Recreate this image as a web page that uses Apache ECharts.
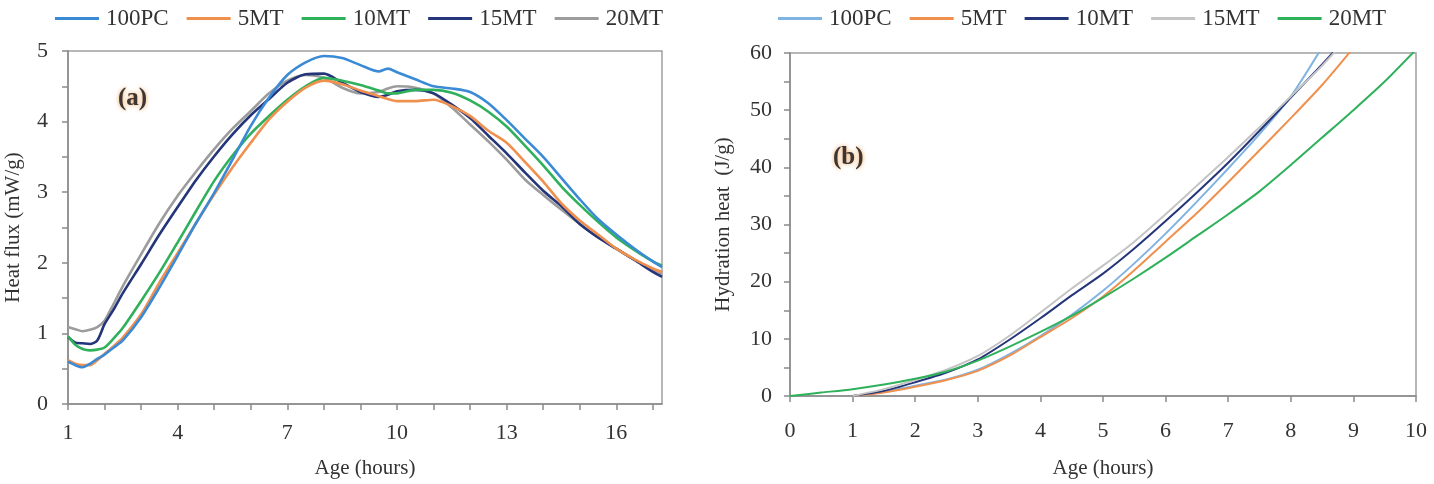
<!DOCTYPE html>
<html>
<head>
<meta charset="utf-8">
<script src="https://cdn.jsdelivr.net/npm/echarts@6/dist/echarts.min.js"></script>
<style>html,body{margin:0;padding:0;background:#fff}#c{width:1434px;height:484px}</style>
</head>
<body>
<div id="c"></div>
<script>
// ---------- Panel (a): heat flux ----------
const namesA = ['100PC', '5MT', '10MT', '15MT', '20MT'];
const timeA = [1,1.2,1.4,1.6,1.8,2,2.25,2.5,3,3.5,4,4.5,5,5.5,6,6.5,7,7.5,8,8.5,9,9.5,9.75,10,10.5,11,11.5,12,12.5,13,13.5,14,14.5,15,15.5,16,16.5,17,17.25];
const fluxPC   = [0.60,0.55,0.52,0.57,0.64,0.70,0.80,0.90,1.23,1.65,2.10,2.56,2.99,3.46,3.94,4.34,4.66,4.84,4.93,4.90,4.80,4.71,4.75,4.70,4.60,4.50,4.47,4.42,4.26,4.02,3.76,3.50,3.20,2.90,2.62,2.40,2.20,2.02,1.94];
const flux5MT  = [0.62,0.57,0.55,0.55,0.62,0.71,0.82,0.94,1.27,1.72,2.14,2.56,2.97,3.35,3.70,4.03,4.28,4.48,4.58,4.53,4.44,4.36,4.32,4.29,4.29,4.31,4.22,4.08,3.87,3.70,3.43,3.15,2.84,2.60,2.40,2.20,2.05,1.92,1.87];
const flux10MT = [0.96,0.84,0.78,0.76,0.77,0.80,0.93,1.08,1.46,1.86,2.29,2.73,3.16,3.52,3.83,4.08,4.31,4.50,4.62,4.58,4.52,4.44,4.40,4.40,4.45,4.45,4.41,4.30,4.14,3.93,3.66,3.38,3.08,2.82,2.58,2.36,2.18,2.02,1.96];
const flux15MT = [0.95,0.87,0.86,0.85,0.90,1.13,1.34,1.57,1.98,2.40,2.79,3.17,3.51,3.82,4.09,4.32,4.55,4.67,4.68,4.55,4.42,4.35,4.38,4.43,4.45,4.40,4.24,4.05,3.80,3.55,3.28,3.02,2.80,2.55,2.36,2.20,2.04,1.87,1.80];
const flux20MT = [1.09,1.06,1.03,1.05,1.09,1.18,1.42,1.67,2.12,2.56,2.95,3.29,3.61,3.90,4.15,4.40,4.58,4.66,4.62,4.48,4.40,4.42,4.47,4.50,4.48,4.40,4.20,3.96,3.72,3.46,3.18,2.96,2.75,2.55,2.36,2.20,2.04,1.90,1.84];
const colorsA = ['#3a8ad6', '#f0904e', '#2fb15b', '#24357a', '#9c9c9c'];

// ---------- Panel (b): hydration heat ----------
const namesB = ['100PC', '5MT', '10MT', '15MT', '20MT'];
const timeB = [0,0.5,1,1.5,2,2.5,3,3.5,4,4.5,5,5.5,6,6.5,7,7.5,8,8.5,9,9.5,10];
const heatPC   = [null,null,0,0.7,1.8,2.9,4.6,7.3,10.5,14.2,18.4,23.2,28.4,34.0,39.8,45.8,52.4,61.0,null,null,null];
const heat5MT  = [null,null,0,0.6,1.6,2.8,4.4,7.0,10.3,13.6,17.4,22.0,27.0,32.0,37.4,43.0,48.6,54.4,60.9,null,null];
const heat10MT = [null,null,0,0.9,2.4,4.1,6.4,9.8,13.6,17.6,21.4,25.8,30.6,35.6,40.8,46.4,52.2,58.0,64.0,null,null];
const heat15MT = [null,null,0,1.2,2.8,4.6,7.0,10.5,14.6,18.8,22.8,27.0,31.8,36.8,41.8,47.0,52.4,57.8,63.8,null,null];
const heat20MT = [0,0.6,1.2,2.0,3.0,4.3,6.2,8.6,11.2,14.0,17.2,20.6,24.2,28.0,31.8,35.8,40.4,45.2,50.0,55.0,60.6];
const colorsB = ['#7fb3e2', '#f0904e', '#24357a', '#c4c4c4', '#2fb15b'];

const xTicksA = [1, 4, 7, 10, 13, 16];

const FONT = "'Liberation Serif', 'Times New Roman', serif";
const AX = '#8a8a8a';

function pairs(xs, ys) { return xs.map((x, i) => [x, ys[i]]); }

const seriesA = [fluxPC, flux5MT, flux10MT, flux15MT, flux20MT].map((ys, i) => ({
  name: 'a:' + namesA[i], type: 'line', xAxisIndex: 0, yAxisIndex: 0,
  data: pairs(timeA, ys), symbol: 'none', smooth: 0.25,
  lineStyle: { color: colorsA[i], width: 2.6 }, itemStyle: { color: colorsA[i] }, z: 10 - i
}));
const seriesB = [heatPC, heat5MT, heat10MT, heat15MT, heat20MT].map((ys, i) => ({
  name: 'b:' + namesB[i], type: 'line', xAxisIndex: 1, yAxisIndex: 1,
  data: pairs(timeB, ys), symbol: 'none', smooth: 0.25, connectNulls: false,
  lineStyle: { color: colorsB[i], width: 2 }, itemStyle: { color: colorsB[i] }, clip: true
}));

function axisCommon() {
  return {
    axisLine: { show: true, lineStyle: { color: AX, width: 1.5 } },
    axisTick: { show: true, length: 6, inside: false, lineStyle: { color: AX, width: 1.5 } },
    splitLine: { show: false },
    axisLabel: { color: '#333', fontFamily: FONT, fontSize: 22 },
    nameTextStyle: { color: '#333', fontFamily: FONT, fontSize: 21 }
  };
}

const legendCommon = {
  icon: 'rect', itemWidth: 44, itemHeight: 3, itemGap: 18, top: 7, padding: 0,
  textStyle: { fontFamily: FONT, fontSize: 23, color: '#333', padding: [0, 0, 0, 2] },
  formatter: n => n.slice(2)
};

const option = {
  animation: false,
  backgroundColor: '#fff',
  legend: [
    Object.assign({}, legendCommon, { left: 55, data: namesA.map(n => 'a:' + n) }),
    Object.assign({}, legendCommon, { left: 778, data: namesB.map(n => 'b:' + n) })
  ],
  grid: [
    { left: 68, top: 51, width: 594, height: 355, show: true, borderColor: '#a0a0a0', borderWidth: 1.5, backgroundColor: 'transparent' },
    { left: 790, top: 53, width: 626, height: 344, show: true, borderColor: '#a0a0a0', borderWidth: 1.5, backgroundColor: 'transparent' }
  ],
  xAxis: [
    Object.assign(axisCommon(), {
      type: 'value', gridIndex: 0, min: 1, max: 17.25, interval: 1,
      name: 'Age (hours)', nameLocation: 'middle', nameGap: 54,
      axisLabel: Object.assign(axisCommon().axisLabel, {
        margin: 18, showMaxLabel: false,
        formatter: v => (xTicksA.indexOf(v) >= 0 ? String(v) : '')
      })
    }),
    Object.assign(axisCommon(), {
      type: 'value', gridIndex: 1, min: 0, max: 10, interval: 1,
      name: 'Age (hours)', nameLocation: 'middle', nameGap: 62,
      axisLabel: Object.assign(axisCommon().axisLabel, { margin: 24 })
    })
  ],
  yAxis: [
    Object.assign(axisCommon(), {
      type: 'value', gridIndex: 0, min: 0, max: 5, interval: 1,
      name: 'Heat flux (mW/g)', nameLocation: 'middle', nameGap: 44,
      minorTick: { show: true, splitNumber: 2, length: 6, lineStyle: { color: AX, width: 1.5 } },
      axisLabel: Object.assign(axisCommon().axisLabel, { margin: 20 })
    }),
    Object.assign(axisCommon(), {
      type: 'value', gridIndex: 1, min: 0, max: 60, interval: 10,
      name: 'Hydration heat  (J/g)', nameLocation: 'middle', nameGap: 56,
      minorTick: { show: true, splitNumber: 2, length: 6, lineStyle: { color: AX, width: 1.5 } },
      axisLabel: Object.assign(axisCommon().axisLabel, { margin: 18 })
    })
  ],
  graphic: [
    { type: 'text', left: 118, top: 86, style: { text: '(a)', font: 'bold 25px ' + FONT, fill: '#3d3434', textShadowColor: '#f0a050', textShadowBlur: 4 } },
    { type: 'text', left: 833, top: 145, style: { text: '(b)', font: 'bold 25px ' + FONT, fill: '#3d3434', textShadowColor: '#f0a050', textShadowBlur: 4 } }
  ],
  series: seriesA.concat(seriesB)
};

const chart = echarts.init(document.getElementById('c'), null, { renderer: 'canvas' });
chart.setOption(option);
</script>
</body>
</html>
